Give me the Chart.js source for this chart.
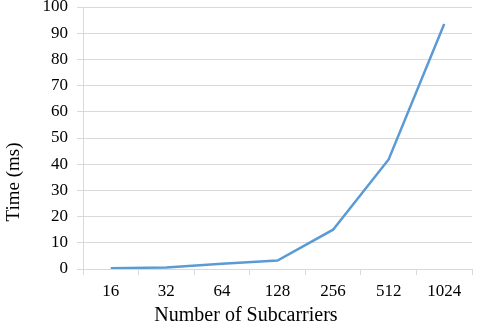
<!DOCTYPE html>
<html><head><meta charset="utf-8">
<script src="https://cdn.jsdelivr.net/npm/chart.js@4"></script>
<style>html,body{margin:0;padding:0;background:#fff}#wrap{width:480px;height:330px}</style>
</head><body><div id="wrap"><canvas id="c" width="480" height="330"></canvas></div>
<script>
const categories = ["16","32","64","128","256","512","1024"];
const timeMs = [0.3, 0.6, 2.0, 3.2, 15.0, 41.8, 93.5];
const yTicks = [0,10,20,30,40,50,60,70,80,90,100];
const xTitle = "Number of Subcarriers";
const yTitle = "Time (ms)";

const family = "'Liberation Serif','Times New Roman',serif";
const font = {family: family, size: 17};

const axisTitles = {
  id: 'axisTitles',
  afterDraw(chart) {
    const ctx = chart.ctx;
    ctx.save();
    ctx.fillStyle = '#000';
    ctx.textAlign = 'center';
    ctx.textBaseline = 'middle';
    ctx.font = "20px " + family;
    ctx.fillText(xTitle, chart.width / 2 + 6, chart.height - 14);
    ctx.font = "19px " + family;
    ctx.translate(14, chart.height / 2 + 17);
    ctx.rotate(-Math.PI / 2);
    ctx.fillText(yTitle, 0, 0);
    ctx.restore();
  }
};

new Chart(document.getElementById('c'), {
  type: 'line',
  data: {labels: categories, datasets: [{data: timeMs, borderColor: '#5B9BD5', borderWidth: 2.5, pointRadius: 0, tension: 0, fill: false}]},
  options: {
    responsive: false, animation: false,
    layout: {padding: {top: 7, right: 8, left: 0, bottom: 0}},
    plugins: {legend: {display: false}, tooltip: {enabled: false}},
    scales: {
      x: {
        offset: true,
        grid: {offset: true, drawOnChartArea: false, color: '#d9d9d9', tickLength: 6},
        border: {color: '#d9d9d9'},
        ticks: {color: '#000', font: font, padding: 6, maxRotation: 0},
        afterFit: s => { s.height = 61; s.paddingLeft = 0; s.paddingRight = 0; }
      },
      y: {
        min: 0, max: 100,
        afterBuildTicks: s => { s.ticks = yTicks.map(v => ({value: v})); },
        grid: {color: '#d9d9d9', tickLength: 6},
        border: {color: '#d9d9d9'},
        ticks: {color: '#000', font: font, padding: 9},
        afterFit: s => { s.width = 83; s.paddingTop = 0; s.paddingBottom = 0; }
      }
    }
  },
  plugins: [axisTitles]
});
</script></body></html>
